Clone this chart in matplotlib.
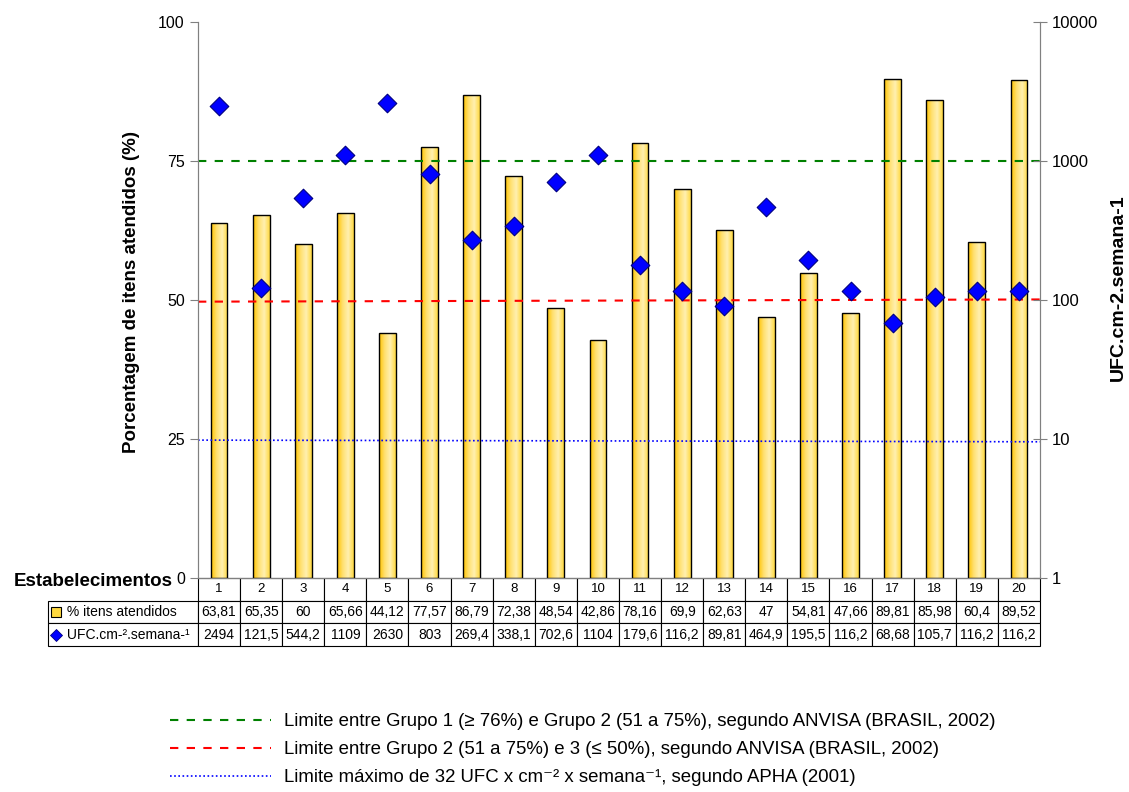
import numpy as np
import matplotlib
matplotlib.use('Agg')
import matplotlib.pyplot as plt
from matplotlib.colors import LinearSegmentedColormap
from matplotlib.lines import Line2D
from matplotlib.table import Table

# dados
estabelecimentos = [str(i) for i in range(1, 21)]
pct_itens = [63.81, 65.35, 60, 65.66, 44.12, 77.57, 86.79, 72.38, 48.54, 42.86,
             78.16, 69.9, 62.63, 47, 54.81, 47.66, 89.81, 85.98, 60.4, 89.52]
ufc = [2494, 121.5, 544.2, 1109, 2630, 803, 269.4, 338.1, 702.6, 1104,
       179.6, 116.2, 89.81, 464.9, 195.5, 116.2, 68.68, 105.7, 116.2, 116.2]
pct_txt = ['63,81', '65,35', '60', '65,66', '44,12', '77,57', '86,79', '72,38', '48,54', '42,86',
           '78,16', '69,9', '62,63', '47', '54,81', '47,66', '89,81', '85,98', '60,4', '89,52']
ufc_txt = ['2494', '121,5', '544,2', '1109', '2630', '803', '269,4', '338,1', '702,6', '1104',
           '179,6', '116,2', '89,81', '464,9', '195,5', '116,2', '68,68', '105,7', '116,2', '116,2']
lim_grupo1 = [75, 75]
lim_grupo2 = [49.7, 50.1]
lim_apha = [24.8, 24.5]

plt.rcParams['font.family'] = ['Liberation Sans', 'DejaVu Sans']

fig = plt.figure(figsize=(11.29, 7.92), dpi=100)
ax = fig.add_axes([198/1129, 1-578/792, 842/1129, 556/792])
ax2 = ax.twinx()

n = len(estabelecimentos)
x = np.arange(n)

# barras com gradiente
cmap = LinearSegmentedColormap.from_list('ouro', ['#FFC400', '#FFE070', '#FFF0B0', '#FFD940'])
grad = np.linspace(0, 1, 64).reshape(1, -1)
bars = ax.bar(x, pct_itens, width=0.4, facecolor='none', edgecolor='black', linewidth=1.0, zorder=3)
for b in bars:
    im = ax.imshow(grad, cmap=cmap, aspect='auto', zorder=2,
                   extent=[b.get_x(), b.get_x() + b.get_width(), 0, b.get_height()])
    im.set_clip_path(b)

ax.set_xlim(-0.5, n - 0.5)
ax.set_ylim(0, 100)
ax.set_yticks([0, 25, 50, 75, 100])
ax.set_xticks([])
ax.tick_params(axis='y', direction='out', length=6, labelsize=11.5, color='#808080')

# linhas de limite
ax.plot([-0.5, n - 0.5], lim_grupo1, color='#008000', ls=(0, (4, 4)), lw=1.5, zorder=4)
ax.plot([-0.5, n - 0.5], lim_grupo2, color='#FF0000', ls=(0, (4, 4)), lw=1.5, zorder=4)
ax.plot([-0.5, n - 0.5], lim_apha, color='#0000FF', ls=(0, (1, 1.5)), lw=1.2, zorder=4)

# UFC no eixo log
ax2.scatter(x, ufc, marker='D', s=90, color='#0000FF', edgecolor='#000080', linewidth=0.8, zorder=5)
ax2.set_yscale('log')
ax2.set_ylim(1, 10000)
ax2.set_yticks([1, 10, 100, 1000, 10000])
ax2.set_yticklabels(['1', '10', '100', '1000', '10000'])
ax2.minorticks_off()
ax2.tick_params(axis='y', direction='inout', length=10, labelsize=12, color='#808080')

for a in (ax, ax2):
    a.spines['top'].set_visible(False)
    a.spines['left'].set_color('#808080')
    a.spines['right'].set_color('#808080')
    a.spines['bottom'].set_color('#808080')

ax.set_ylabel('Porcentagem de itens atendidos (%)', fontsize=13.5, fontweight='bold')
ax.yaxis.set_label_coords(-0.069, 0.514)
ax2.set_ylabel('UFC.cm-2.semana-1', fontsize=14, fontweight='bold')
ax2.yaxis.set_label_coords(1.083, 0.522)

fig.text(173/1129, 1-582/792, 'Estabelecimentos', fontsize=13.5, fontweight='bold',
         ha='right', va='center')

# tabela de dados
tab = Table(ax, bbox=[-150/842, -68/556, 992/842, 68/556])
lab_w = 150
col_w = 842 / n
linhas = [[''] + estabelecimentos,
          [' % itens atendidos'] + pct_txt,
          [' UFC.cm-\u00b2.semana-\u00b9'] + ufc_txt]
for r, linha in enumerate(linhas):
    for c, txt in enumerate(linha):
        cell = tab.add_cell(r, c, width=lab_w if c == 0 else col_w, height=1,
                            text=txt, loc='left' if c == 0 else 'center')
        cell.set_linewidth(0.8)
        cell.get_text().set_fontsize(9.5 if r == 0 else 10)
        if r == 0 and c == 0:
            cell.visible_edges = 'open'
tab.auto_set_font_size(False)
ax.add_table(tab)

ax.plot([-142/842], [-33.5/556], transform=ax.transAxes, marker='s', ms=7,
        mfc='#FFD940', mec='black', mew=0.8, clip_on=False)
ax.plot([-142/842], [-56.5/556], transform=ax.transAxes, marker='D', ms=6,
        mfc='#0000FF', mec='#000080', mew=0.6, clip_on=False)

# legenda
handles = [Line2D([], [], color='#008000', ls=(0, (4, 4)), lw=1.5),
           Line2D([], [], color='#FF0000', ls=(0, (4, 4)), lw=1.5),
           Line2D([], [], color='#0000FF', ls=(0, (1, 1.5)), lw=1.2)]
labels = ['Limite entre Grupo 1 (\u2265 76%) e Grupo 2 (51 a 75%), segundo ANVISA (BRASIL, 2002)',
          'Limite entre Grupo 2 (51 a 75%) e 3 (\u2264 50%), segundo ANVISA (BRASIL, 2002)',
          'Limite m\u00e1ximo de 32 UFC x cm\u207b\u00b2 x semana\u207b\u00b9, segundo APHA (2001)']
fig.legend(handles, labels, loc='upper left', bbox_to_anchor=(170/1129, 1-713/792),
           frameon=False, borderpad=0, borderaxespad=0, handlelength=5.4, handletextpad=0.75,
           labelspacing=0.6, prop={'size': 13.4})

fig.savefig('out.png', dpi=100)
